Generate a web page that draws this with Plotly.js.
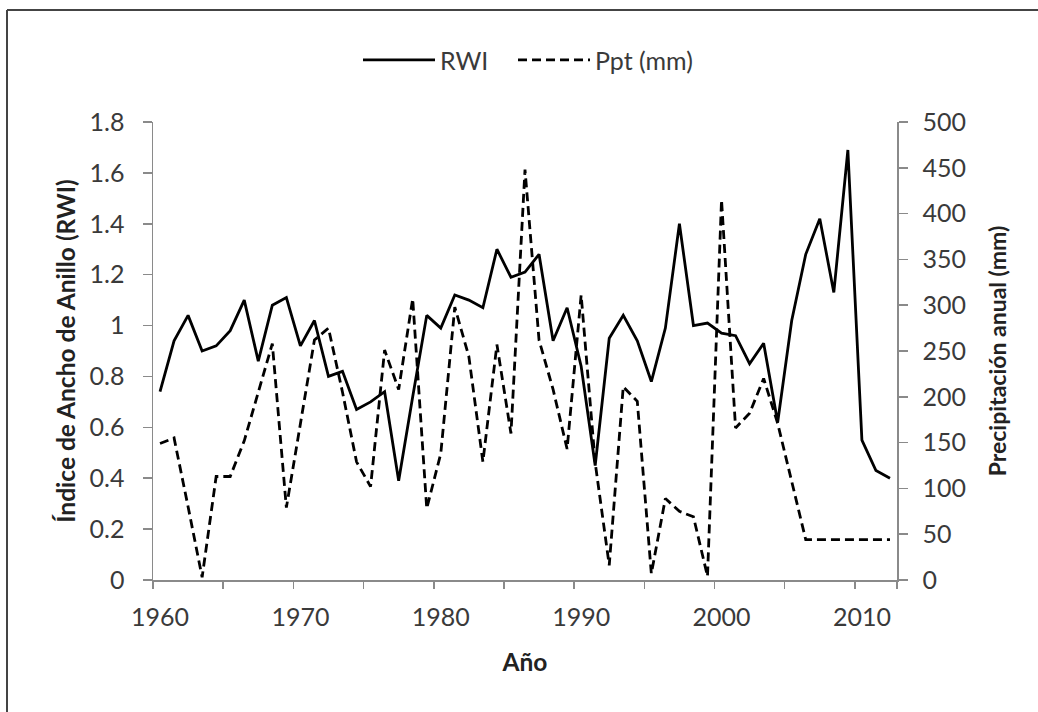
<!DOCTYPE html>
<html>
<head>
<meta charset="utf-8">
<script src="https://cdn.plot.ly/plotly-3.0.1.min.js"></script>
<style>html,body{margin:0;padding:0;background:#fff;}#chart{width:1038px;height:712px;}</style>
</head>
<body>
<div id="chart"></div>
<script>
const years = [1960,1961,1962,1963,1964,1965,1966,1967,1968,1969,
  1970,1971,1972,1973,1974,1975,1976,1977,1978,1979,
  1980,1981,1982,1983,1984,1985,1986,1987,1988,1989,
  1990,1991,1992,1993,1994,1995,1996,1997,1998,1999,
  2000,2001,2002,2003,2004,2005,2006,2007,2008,2009,
  2010,2011,2012];

const rwi = [0.74,0.94,1.04,0.90,0.92,0.98,1.10,0.86,1.08,1.11,
  0.92,1.02,0.80,0.82,0.67,0.70,0.74,0.39,0.72,1.04,
  0.99,1.12,1.10,1.07,1.30,1.19,1.21,1.28,0.94,1.07,
  0.84,0.45,0.95,1.04,0.94,0.78,0.99,1.40,1.00,1.01,
  0.97,0.96,0.85,0.93,0.62,1.02,1.28,1.42,1.13,1.69,
  0.55,0.43,0.40];

const ppt = [149,155,80,3,113,113,152,205,258,79,
  172,262,275,205,129,102,251,208,307,78,
  138,298,244,129,257,160,448,262,208,143,
  311,128,16,211,195,7,89,75,69,4,
  415,166,182,220,171,107,44,44,44,44,
  44,44,44];

const xLabelYears = [1960,1970,1980,1990,2000,2010];
const xLabelText = ["1960","1970","1980","1990","2000","2010"];
const xTickMarks = [1959.5,1964.5,1969.5,1974.5,1979.5,1984.5,1989.5,1994.5,1999.5,2004.5,2009.5,2012.5];
const yLeftVals = [0,0.2,0.4,0.6,0.8,1,1.2,1.4,1.6,1.8];
const yLeftText = ["0","0.2","0.4","0.6","0.8","1","1.2","1.4","1.6","1.8"];
const yRightVals = [0,50,100,150,200,250,300,350,400,450,500];
const yRightText = ["0","50","100","150","200","250","300","350","400","450","500"];

const FONT = "Lato, 'Open Sans', sans-serif";
const AXIS_COLOR = "#8a8a8a";
const TEXT_COLOR = "#3a3a3a";

const traces = [
  {x: years, y: rwi, type: "scatter", mode: "lines", name: "RWI", legend: "legend",
   line: {color: "#000", width: 2.8}, yaxis: "y"},
  {x: years, y: ppt, type: "scatter", mode: "lines", name: "Ppt (mm)", legend: "legend2",
   line: {color: "#000", width: 2.8, dash: "9px,5px"}, yaxis: "y2"}
];

const legendBase = {orientation: "h", xanchor: "left", y: 1.135, yanchor: "middle",
  font: {family: FONT, size: 25, color: TEXT_COLOR}, itemwidth: 72,
  bgcolor: "rgba(0,0,0,0)"};

const layout = {
  width: 1038, height: 712,
  margin: {l: 153, r: 141, t: 122, b: 132, pad: 0},
  paper_bgcolor: "#fff", plot_bgcolor: "#fff",
  font: {family: FONT, color: TEXT_COLOR, size: 25},
  showlegend: true,
  legend: Object.assign({}, legendBase, {x: (358 - 153) / 744}),
  legend2: Object.assign({}, legendBase, {x: (513 - 153) / 744}),
  xaxis: {
    range: [1959.5, 2012.5], tickmode: "array", tickvals: xLabelYears, ticktext: xLabelText,
    ticks: "", showline: true, linecolor: AXIS_COLOR, linewidth: 1.5,
    showgrid: false, zeroline: false, ticklabelstandoff: 14,
    tickfont: {family: FONT, size: 25, color: TEXT_COLOR},
    minor: {tickmode: "array", tickvals: xTickMarks, ticks: "outside", ticklen: 7,
            tickcolor: AXIS_COLOR, tickwidth: 1.5, showgrid: false},
    title: {text: "Año", font: {family: FONT, size: 24.5, color: "#222", weight: "bold"}, standoff: 24}
  },
  yaxis: {
    range: [0, 1.8], tickmode: "array", tickvals: yLeftVals, ticktext: yLeftText,
    ticks: "outside", ticklen: 9, tickcolor: AXIS_COLOR, tickwidth: 1.5,
    showline: true, linecolor: AXIS_COLOR, linewidth: 1.5,
    showgrid: false, zeroline: false, ticklabelstandoff: 13,
    tickfont: {family: FONT, size: 25, color: TEXT_COLOR},
    title: {text: "Índice de Ancho de Anillo (RWI)", font: {family: FONT, size: 24.5, color: "#222", weight: "bold"}, standoff: 7}
  },
  yaxis2: {
    range: [0, 500], overlaying: "y", side: "right", anchor: "x",
    tickmode: "array", tickvals: yRightVals, ticktext: yRightText,
    ticks: "outside", ticklen: 9, tickcolor: AXIS_COLOR, tickwidth: 1.5,
    showline: true, linecolor: AXIS_COLOR, linewidth: 1.5,
    showgrid: false, zeroline: false, ticklabelstandoff: 10,
    tickfont: {family: FONT, size: 25, color: TEXT_COLOR},
    title: {text: "Precipitación anual (mm)", font: {family: FONT, size: 23, color: "#222", weight: "bold"}, standoff: 25}
  },
  shapes: [
    {type: "line", xref: "paper", yref: "paper", x0: -146/744, x1: 900/744, y0: 570/458, y1: 570/458,
     line: {color: "#444", width: 2}},
    {type: "line", xref: "paper", yref: "paper", x0: -146/744, x1: -146/744, y0: 570/458, y1: -140/458,
     line: {color: "#444", width: 2}}
  ]
};

Plotly.newPlot("chart", traces, layout, {displayModeBar: false, staticPlot: true});
</script>
</body>
</html>
